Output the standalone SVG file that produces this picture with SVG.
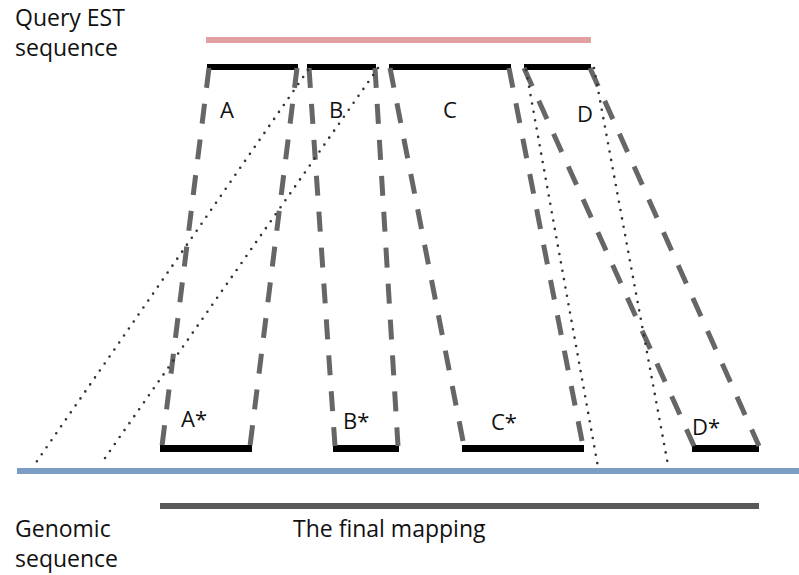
<svg xmlns="http://www.w3.org/2000/svg" width="799" height="575" viewBox="0 0 799 575">
<style>
text{font-family:"Open Sans","Liberation Sans",sans-serif;fill:#111;}
.lbl{font-size:23px;}
.seg{font-size:22px;}
.bar{fill:#000;}
.dash{stroke:#666;stroke-width:5;fill:none;stroke-dasharray:20 16;}
.dot{stroke:#333;stroke-width:2.6;fill:none;stroke-linecap:round;stroke-dasharray:0 8.5;}
</style>
<rect width="799" height="575" fill="#fff"/>
<g id="query">
<rect x="206" y="37" width="385" height="6" fill="#e3a0a0"/>
<text class="lbl" x="15" y="25.5">Query EST</text>
<text class="lbl" x="15" y="56">sequence</text>
</g>
<g id="genomic">
<rect x="17" y="468" width="782" height="6" fill="#7b9dc3"/>
<text class="lbl" x="15" y="537">Genomic</text>
<text class="lbl" x="15" y="567">sequence</text>
</g>
<g id="final">
<rect x="160" y="503" width="599" height="6" fill="#595959"/>
<text class="lbl" x="293" y="537">The final mapping</text>
</g>
<g id="A"><rect class="bar" x="207" y="64" width="91" height="6"/><text class="seg" x="220" y="118">A</text></g>
<g id="B"><rect class="bar" x="307" y="64" width="69" height="6"/><text class="seg" x="329" y="118">B</text></g>
<g id="C"><rect class="bar" x="389" y="64" width="122" height="6"/><text class="seg" x="443" y="118">C</text></g>
<g id="D"><rect class="bar" x="524" y="64" width="67" height="6"/><text class="seg" x="577" y="122">D</text></g>
<g id="Astar"><rect class="bar" x="160" y="445" width="92" height="7"/><text class="seg" x="181" y="427">A*</text></g>
<g id="Bstar"><rect class="bar" x="333" y="445" width="66" height="7"/><text class="seg" x="343" y="429">B*</text></g>
<g id="Cstar"><rect class="bar" x="462" y="445" width="122" height="7"/><text class="seg" x="491" y="430">C*</text></g>
<g id="Dstar"><rect class="bar" x="692" y="445" width="67" height="7"/><text class="seg" x="692" y="435">D*</text></g>
<g id="connectors">
<line class="dash" x1="209" y1="68" x2="162" y2="446"/>
<line class="dash" x1="297" y1="68" x2="250" y2="446"/>
<line class="dash" x1="309" y1="68" x2="335" y2="446"/>
<line class="dash" x1="375" y1="68" x2="398" y2="446"/>
<line class="dash" x1="390" y1="68" x2="464" y2="446"/>
<line class="dash" x1="509" y1="68" x2="583" y2="446"/>
<line class="dash" x1="524" y1="68" x2="694" y2="446"/>
<line class="dash" x1="590" y1="68" x2="759" y2="446"/>
<line class="dot" x1="308" y1="70" x2="35" y2="464"/>
<line class="dot" x1="378" y1="68" x2="105" y2="458"/>
<line class="dot" x1="526" y1="70" x2="598" y2="467"/>
<line class="dot" x1="594" y1="68" x2="668" y2="465"/>
</g>
</svg>
